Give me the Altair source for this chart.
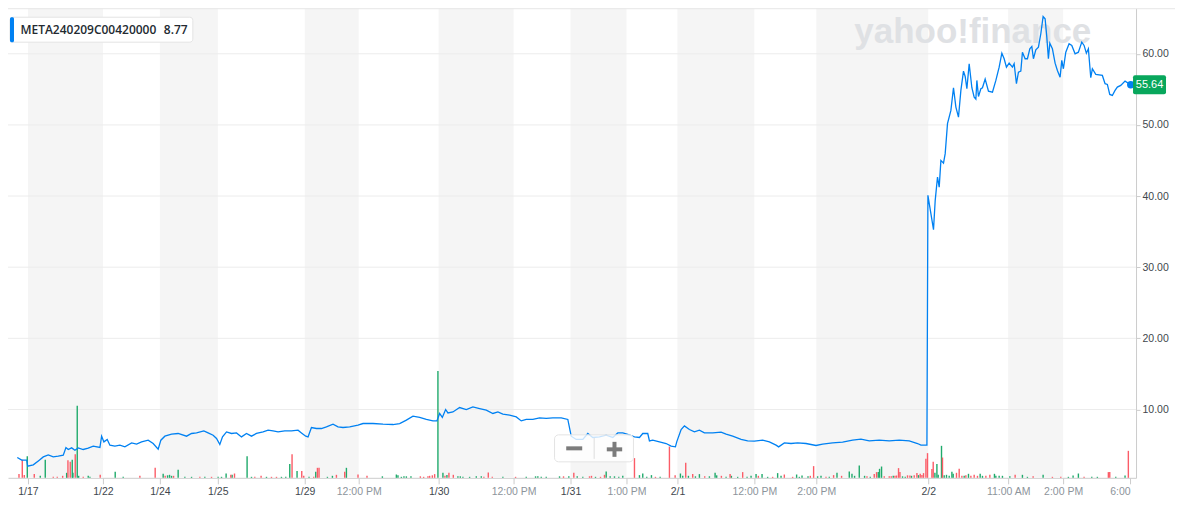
import altair as alt
import pandas as pd

# ---------------- data ----------------
contract = "META240209C00420000"
legend_value = "8.77"

# x position = trading-slot index (one slot per plotted tick)
price_slot = [
    9.3, 13.7, 18.7, 19.7, 25.3, 31.3, 35.3, 40.3, 45.3, 50.3,
    55.3, 58.0, 60.3, 63.7, 67.0, 70.3, 75.3, 80.3, 85.3, 92.0,
    93.7, 96.0, 99.3, 102.0, 107.0, 112.0, 117.0, 123.7, 128.7, 133.7,
    140.3, 145.3, 150.3, 153.0, 157.0, 163.7, 170.3, 178.7, 183.7, 188.7,
    196.0, 200.3, 205.3, 208.7, 212.0, 214.7, 218.7, 223.7, 228.7, 233.7,
    238.7, 243.7, 248.7, 255.3, 260.3, 265.3, 270.3, 277.0, 283.7, 290.3,
    293.7, 298.0, 300.3, 303.7, 308.7, 313.7, 318.7, 325.3, 330.3, 335.3,
    342.0, 350.3, 355.3, 365.3, 375.3, 385.3, 392.0, 398.7, 405.3, 412.0,
    418.7, 425.3, 429.3,
    432.0, 434.7, 438.0, 440.3, 445.3, 452.0, 458.7, 465.3, 472.0, 478.7,
    485.3, 490.3, 495.3, 502.0, 508.7, 513.7, 518.7, 525.3, 532.0, 538.7,
    545.3, 553.7, 560.3, 563.7, 568.7, 575.3, 580.3, 585.3, 592.0, 598.7,
    605.3, 610.3, 615.3, 620.3, 627.0, 632.0, 635.3, 640.3, 642.0, 645.3,
    652.0, 658.7, 663.7, 668.0, 669.3, 673.7, 677.0, 682.0, 687.0, 692.0,
    697.0, 705.3, 713.7, 718.7, 725.3, 733.7, 740.3, 747.0, 755.3, 762.0,
    768.7, 771.3, 777.0, 783.7, 790.3, 798.7, 808.7, 815.3, 825.3, 835.3,
    845.3, 853.7, 862.0, 872.0, 882.0, 892.0, 902.0, 910.3, 913.7, 919.7,
    920.7, 926.3, 928.0, 930.3, 932.0, 933.7, 936.3, 938.0, 940.3, 943.7,
    946.3, 948.7, 951.3, 953.7, 956.3, 958.0, 959.7, 962.0, 964.7, 967.0,
    968.7, 969.7, 971.3, 973.7, 975.3, 978.0, 981.3, 985.3, 988.7, 992.0,
    994.7, 997.0, 999.3, 1002.0, 1005.3, 1007.0, 1009.3, 1011.3, 1013.7, 1015.3,
    1018.0, 1020.3, 1022.7, 1024.7, 1026.3, 1028.7, 1031.3, 1033.7, 1036.0, 1038.0,
    1039.7, 1041.3, 1042.7, 1045.3, 1048.0, 1050.3, 1053.0, 1054.7, 1056.3, 1058.7,
    1062.0, 1064.7, 1068.0, 1071.3, 1074.7, 1077.0, 1079.3, 1081.3, 1083.7, 1085.3,
    1088.7, 1095.3, 1098.0, 1100.3, 1102.7, 1105.3, 1108.0, 1110.3, 1113.7, 1118.0,
    1123.7,
]
price_val = [
    3.26, 2.88, 2.88, 2.04, 2.22, 2.88, 3.34, 3.62, 3.34, 3.44,
    3.58, 4.66, 4.38, 4.61, 4.28, 4.61, 4.38, 4.56, 4.85, 4.66,
    6.25, 5.45, 5.79, 4.99, 4.85, 4.99, 4.75, 5.31, 5.13, 5.45,
    5.69, 5.22, 4.42, 5.69, 6.25, 6.53, 6.63, 6.25, 6.63, 6.71,
    6.99, 6.71, 6.39, 5.93, 5.08, 6.15, 6.85, 6.63, 6.71, 6.15,
    6.63, 6.25, 6.63, 6.85, 7.09, 6.99, 6.85, 6.99, 6.99, 7.09,
    6.71, 6.25, 6.15, 7.47, 7.33, 7.33, 7.56, 7.94, 7.56, 7.47,
    7.56, 7.79, 8.03, 8.03, 7.94, 7.89, 8.03, 8.50, 9.06, 8.88,
    8.60, 8.40, 8.40,
    9.44, 8.88, 10.00, 9.52, 9.66, 10.28, 10.00, 10.37, 10.14, 9.90,
    9.44, 9.66, 9.34, 9.20, 8.96, 8.40, 8.60, 8.60, 8.82, 8.74,
    8.82, 8.82, 8.60, 6.25, 5.79, 5.79, 6.63, 6.07, 6.15, 6.39,
    6.07, 6.71, 6.71, 6.49, 6.15, 6.07, 6.63, 6.63, 5.59, 5.69,
    5.45, 5.22, 4.85, 4.75, 5.45, 7.19, 7.70, 7.19, 6.85, 7.09,
    6.71, 6.71, 6.81, 6.53, 6.25, 5.79, 5.59, 5.55, 5.69, 5.45,
    4.99, 4.75, 5.31, 5.22, 5.31, 5.22, 4.94, 5.13, 5.31, 5.41,
    5.69, 5.83, 5.59, 5.69, 5.59, 5.69, 5.59, 5.22, 4.99, 4.99,
    40.10, 35.28, 39.40, 42.67, 41.26, 45.01, 44.63, 45.96, 50.17, 52.04,
    55.22, 52.50, 51.10, 54.85, 57.56, 56.81, 55.08, 58.60, 55.22, 53.90,
    53.62, 56.25, 54.00, 55.08, 55.22, 56.43, 54.75, 54.61, 56.25, 58.12,
    60.08, 59.30, 58.12, 58.68, 58.12, 58.60, 55.79, 57.42, 57.56, 60.22,
    59.30, 59.30, 60.70, 61.03, 59.30, 60.56, 60.93, 62.81, 65.24, 64.92,
    62.33, 59.30, 61.49, 60.70, 58.68, 57.65, 56.71, 59.06, 57.89, 60.22,
    61.40, 61.17, 60.00, 60.22, 61.63, 61.17, 60.08, 60.70, 56.63, 57.89,
    57.09, 56.95, 55.79, 55.69, 54.28, 54.14, 54.85, 55.31, 55.55, 56.15,
    55.64,
]

# volume (contracts) on up ticks
up_slot = [
    19.3, 32.3, 37.3, 58.7, 64.3, 65.0, 69.3, 70.7, 80.3, 82.0,
    107.3, 115.3, 155.3, 159.7, 161.7, 163.7, 170.3, 177.0, 183.7, 197.0,
    210.3, 213.7, 218.3, 224.3, 239.3, 243.7, 258.7, 273.7, 278.0,
    282.0, 289.3, 301.3, 308.0, 319.7, 324.7, 338.7, 374.7, 388.7, 390.3,
    393.7, 396.3, 398.7, 403.3, 430.3, 435.3, 439.3, 450.3, 452.7, 455.3,
    462.0, 468.7, 473.7, 495.3, 518.7, 528.0, 530.3, 533.7, 538.7, 552.0,
    561.3, 569.7,
    575.3, 588.0, 598.7, 602.7, 607.0, 611.3, 615.3, 632.0, 635.3, 639.3,
    644.0, 652.7, 673.0, 675.3, 681.0, 688.0, 692.0, 702.0, 707.7, 709.3,
    718.7, 724.0, 730.3, 739.7, 743.7, 748.7, 754.7, 760.3, 770.3, 773.7,
    789.3, 792.0, 794.7, 800.7, 810.3, 813.7, 822.0, 829.7, 842.0, 844.7,
    847.3, 852.0, 857.3,
    863.0, 871.0, 872.3, 874.3, 886.0, 895.3, 898.0, 904.3, 911.3, 927.7,
    929.7, 931.0, 934.3, 937.0, 939.3, 942.0, 944.7, 946.0, 957.0, 961.3,
    973.0, 975.3, 987.3, 988.7, 992.0, 995.3, 1002.7, 1015.3, 1020.3, 1036.0,
    1061.3, 1066.0, 1071.3, 1084.7, 1090.3, 1108.7, 1118.0,
]
up_vol = [
    217, 20, 180, 50, 180, 50, 720, 20, 20, 10,
    60, 10, 40, 25, 30, 20, 80, 10, 10, 10,
    10, 10, 43, 30, 217, 10, 10, 10, 10,
    137, 67, 10, 60, 10, 20, 100, 15, 33, 25,
    10, 15, 15, 15, 1070, 50, 27, 15, 15, 10,
    10, 15, 15, 10, 10, 15, 15, 10, 10, 15,
    15, 15,
    10, 10, 63, 15, 15, 10, 20, 27, 43, 10,
    27, 10, 43, 20, 20, 15, 37, 15, 50, 25,
    10, 20, 10, 10, 20, 37, 37, 10, 47, 20,
    33, 10, 23, 15, 15, 20, 10, 50, 63, 40,
    20, 123, 20,
    10, 57, 90, 113, 20, 15, 10, 20, 27, 50,
    137, 30, 320, 25, 30, 20, 60, 40, 20, 40,
    40, 20, 40, 20, 20, 20, 15, 30, 10, 30,
    10, 23, 43, 10, 10, 10, 23,
]

# volume (contracts) on down ticks
down_slot = [
    11.0, 14.3, 16.3, 26.3, 45.3, 49.3, 54.7, 60.0, 62.3, 67.3,
    75.3, 92.3, 132.0, 147.3, 157.3, 165.7, 192.0, 203.7, 223.0, 226.7,
    247.0, 253.3, 263.7, 268.7,
    284.3, 294.0, 296.0, 306.0, 309.7, 311.3, 328.7, 337.0, 350.3, 359.3,
    412.7, 416.0, 420.3, 422.0, 424.7, 427.0, 437.3, 441.3, 445.7, 476.3,
    480.7, 484.7, 508.0, 556.0, 566.3,
    582.0, 584.0, 593.0, 597.0, 627.0, 648.0, 662.0, 667.7, 678.3, 685.3,
    697.3, 714.0, 722.7, 735.3, 751.0, 765.3, 777.0, 785.3, 803.0, 806.3,
    818.7, 826.3, 834.3, 859.7,
    867.0, 869.3, 877.0, 882.0, 884.0, 887.7, 889.3, 891.3, 892.7, 900.3,
    902.7, 907.0, 909.7, 913.0, 914.7, 916.3, 918.7, 920.3, 924.7, 926.0,
    935.3, 949.3, 952.0, 954.7, 958.7, 963.7, 967.0, 970.3, 978.7, 982.7,
    1008.0, 1026.0, 1045.3, 1053.7, 1077.0, 1101.3, 1102.7, 1121.3,
]
down_vol = [
    37, 180, 27, 37, 10, 10, 20, 177, 160, 237,
    10, 30, 20, 100, 20, 20, 10, 10, 30, 43,
    10, 20, 10, 10,
    237, 67, 20, 10, 100, 100, 30, 60, 33, 20,
    15, 10, 15, 20, 25, 37, 20, 50, 30, 10,
    53, 10, 10, 15, 50,
    15, 20, 10, 30, 197, 10, 313, 25, 150, 37,
    15, 20, 37, 57, 20, 10, 33, 10, 20, 117,
    10, 27, 20, 15,
    37, 57, 15, 15, 15, 20, 23, 97, 57, 25,
    23, 25, 47, 40, 27, 47, 190, 247, 87, 160,
    203, 50, 90, 20, 25, 20, 30, 20, 20, 30,
    30, 15, 10, 10, 10, 57, 57, 270,
]

tick_slots = [20, 95, 152, 210, 297, 351, 431, 506, 563, 619, 670, 747, 809, 921, 1001, 1056, 1123]
tick_labels = ["1/17", "1/22", "1/24", "1/25", "1/29", "12:00 PM", "1/30", "12:00 PM", "1/31",
               "1:00 PM", "2/1", "12:00 PM", "2:00 PM", "2/2", "11:00 AM", "2:00 PM", "6:00"]
price_ticks = [10, 20, 30, 40, 50, 60]

# ---------------- tables ----------------
price_df = pd.DataFrame({"slot": price_slot, "price": price_val})
last_df = price_df.tail(1)
vol_df = pd.concat([
    pd.DataFrame({"slot": up_slot, "volume": up_vol, "dir": "up"}),
    pd.DataFrame({"slot": down_slot, "volume": down_vol, "dir": "down"}),
])
band_df = pd.DataFrame({"start": tick_slots[0:-1:2], "end": tick_slots[1::2]})
grid_df = pd.DataFrame({"v": price_ticks})
one = pd.DataFrame({"k": [0]})

W, H = 1129, 470
BLUE = "#0081f2"
FONT = "Liberation Sans"

xscale = alt.Scale(domain=[0, 1129], nice=False, zero=False, padding=0)
yscale = alt.Scale(domain=[0.4, 66.4], nice=False, zero=False)
vscale = alt.Scale(domain=[0, 4700], nice=False, padding=0)

time_slots = [s for s, l in zip(tick_slots, tick_labels) if ":" in l]
label_expr = "''"
for s, l in reversed(list(zip(tick_slots, tick_labels))):
    label_expr = f"datum.value == {s} ? '{l}' : ({label_expr})"

xaxis = alt.Axis(
    values=tick_slots, labelExpr=label_expr, title=None, grid=False,
    domainColor="#cccccc", tickColor="#cccccc", tickSize=6, labelPadding=3,
    labelFont=FONT, labelFontSize=10.5, labelFlush=8, labelOverlap=False,
    labelColor={"condition": {"test": f"indexof({time_slots}, datum.value) >= 0",
                              "value": "#8d949b"}, "value": "#41474d"},
)
yaxis = alt.Axis(
    orient="right", values=price_ticks, format=".2f", title=None, grid=False,
    domainColor="#cccccc", tickColor="#cccccc", tickSize=4, labelPadding=2,
    labelFont=FONT, labelFontSize=10.5, labelColor="#41474d",
)

X = alt.X("slot:Q", scale=xscale, axis=xaxis)

bands = alt.Chart(band_df).mark_rect(color="#f5f5f5").encode(
    x=alt.X("start:Q", scale=xscale, axis=xaxis), x2="end:Q",
    y=alt.value(0), y2=alt.value(H),
)
top_line = alt.Chart(one).mark_rule(color="#e6e6e6").encode(
    x=alt.value(0), x2=alt.value(1168), y=alt.value(0.5)
)
grid = alt.Chart(grid_df).mark_rule(color="#ececec", strokeWidth=1).encode(
    y=alt.Y("v:Q", scale=yscale, axis=yaxis)
)
watermark = alt.Chart(one).mark_text(
    text="yahoo!finance", font=FONT, fontWeight="bold", fontSize=35,
    color="#dfe1e4", align="left", baseline="alphabetic",
).encode(x=alt.value(847), y=alt.value(35.3))

volume = alt.Chart(vol_df).mark_bar(width=1.4).encode(
    x=X,
    y=alt.Y("volume:Q", scale=vscale, axis=None),
    color=alt.Color("dir:N", scale=alt.Scale(domain=["up", "down"], range=["#1faa6b", "#fb5c67"]), legend=None),
)
line = alt.Chart(price_df).mark_line(color=BLUE, strokeWidth=1.3).encode(
    x=X, y=alt.Y("price:Q", scale=yscale, axis=None)
)
dot = alt.Chart(last_df).mark_circle(color=BLUE, size=55, opacity=1).encode(
    x=X, y=alt.Y("price:Q", scale=yscale, axis=None)
)
badge_path = ("M-0.88,-0.576 L0.88,-0.576 Q1,-0.576 1,-0.456 L1,0.456 Q1,0.576 0.88,0.576 "
              "L-0.88,0.576 Q-1,0.576 -1,0.456 L-1,-0.456 Q-1,-0.576 -0.88,-0.576 Z")
badge = alt.Chart(last_df).mark_point(shape=badge_path, size=1089, filled=True, color="#08a75c", opacity=1).encode(
    x=alt.value(1142.5), y=alt.Y("price:Q", scale=yscale, axis=None)
)
badge_text = alt.Chart(last_df).mark_text(color="white", font=FONT, fontSize=11, baseline="middle").encode(
    x=alt.value(1142.5), y=alt.Y("price:Q", scale=yscale, axis=None),
    text=alt.Text("price:Q", format=".2f"),
)

legend_box = alt.Chart(one).mark_rect(fill="white", stroke="#e3e3e3", cornerRadius=3).encode(
    x=alt.value(2), x2=alt.value(185), y=alt.value(9), y2=alt.value(34)
)
legend_strip = alt.Chart(one).mark_rect(fill=BLUE, cornerRadius=1.5).encode(
    x=alt.value(2), x2=alt.value(6), y=alt.value(9), y2=alt.value(34)
)
legend_name = alt.Chart(one).mark_text(
    text=contract, font="Open Sans", fontWeight=600, fontSize=12, color="#232a31",
    align="left", baseline="middle",
).encode(x=alt.value(12.5), y=alt.value(21.5))
legend_val = alt.Chart(one).mark_text(
    text=legend_value, font="Open Sans", fontWeight=600, fontSize=12, color="#232a31",
    align="left", baseline="middle",
).encode(x=alt.value(156), y=alt.value(21.5))

zoom_box = alt.Chart(one).mark_rect(fill="white", fillOpacity=0.78, stroke="#e4e4e4", cornerRadius=4).encode(
    x=alt.value(547), x2=alt.value(626), y=alt.value(427), y2=alt.value(454)
)
zoom_sep = alt.Chart(one).mark_rule(color="#dddddd").encode(
    x=alt.value(586.7), y=alt.value(430), y2=alt.value(451)
)
minus = alt.Chart(one).mark_rule(color="#7b7b7b", strokeWidth=4).encode(
    x=alt.value(558.7), x2=alt.value(574.7), y=alt.value(440.5)
)
plus_h = alt.Chart(one).mark_rule(color="#7b7b7b", strokeWidth=4).encode(
    x=alt.value(599.3), x2=alt.value(614.7), y=alt.value(441.5)
)
plus_v = alt.Chart(one).mark_rule(color="#7b7b7b", strokeWidth=4).encode(
    x=alt.value(607), y=alt.value(434), y2=alt.value(449)
)

chart = alt.layer(
    bands, top_line, grid, watermark, volume, line, dot, badge, badge_text,
    legend_box, legend_strip, legend_name, legend_val,
    zoom_box, zoom_sep, minus, plus_h, plus_v,
).resolve_scale(y="independent").properties(
    width=W, height=H,
    autosize=alt.AutoSizeParams(type="none"),
    padding={"left": 0, "top": 0, "right": 40, "bottom": 30},
    background="white",
).configure_view(stroke=None)

chart.save("out.html", embed_options={"renderer": "svg", "actions": False})
